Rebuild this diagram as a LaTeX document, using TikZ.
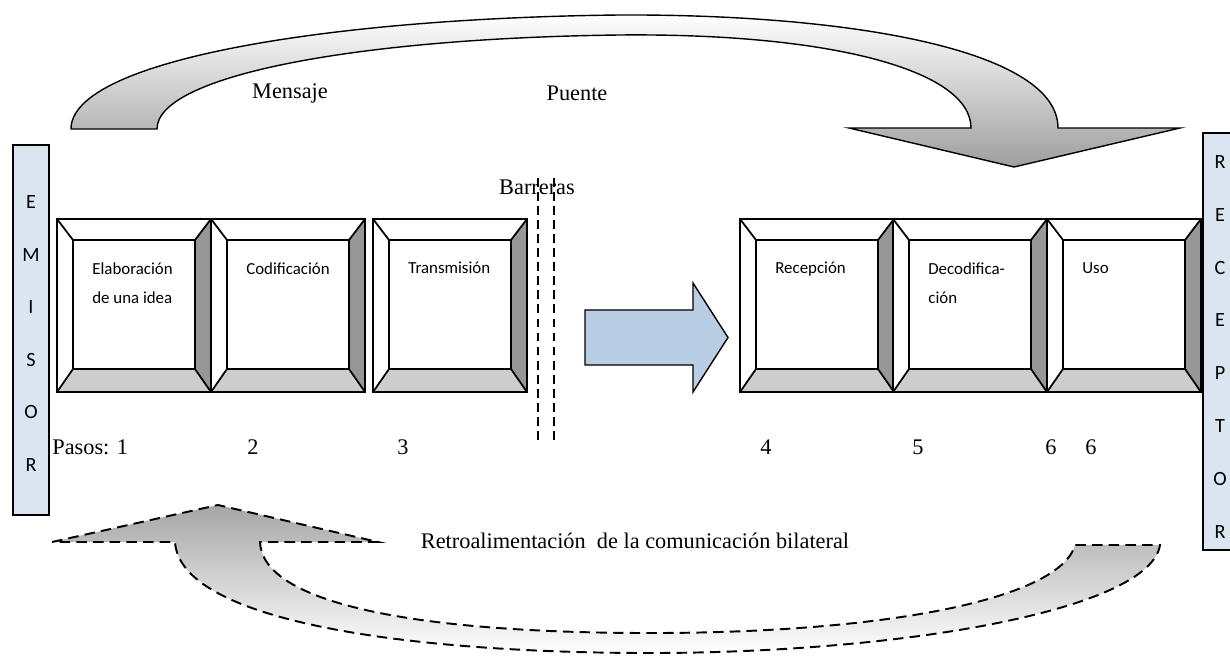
\documentclass[tikz,border=0pt]{standalone}
\usepackage{fontspec}
\setmainfont{Liberation Serif}
\newfontfamily\calibri{Carlito}

\definecolor{barfill}{HTML}{DBE5F1}
\definecolor{arrowblue}{HTML}{B9CDE5}
\definecolor{bevdark}{HTML}{979797}
\definecolor{bevlight}{HTML}{CDCDCD}

% one bevelled key: name, left edge, text
\newcommand{\keybox}[3]{%
  \path[fill=white] (#2,219) -- (#2+154,219) -- (#2+138,240) -- (#2+16,240) -- (#2+16,369) -- (#2,392) -- cycle;
  \path[fill=bevdark] (#2+154,219) -- (#2+154,392) -- (#2+138,369) -- (#2+138,240) -- cycle;
  \path[fill=bevlight] (#2,392) -- (#2+154,392) -- (#2+138,369) -- (#2+16,369) -- cycle;
  \draw[boxline] (#2,219) rectangle (#2+154,392) (#2+16,240) rectangle (#2+138,369)
    (#2,219) -- (#2+16,240) (#2+154,219) -- (#2+138,240)
    (#2,392) -- (#2+16,369) (#2+154,392) -- (#2+138,369);
  \node[keytext] (#1) at (#2+35,262) {#3};
}

\begin{document}
\begin{tikzpicture}[x=0.02cm,y=-0.02cm,every node/.style={inner sep=0pt},
    serif/.style={font=\fontsize{12.7}{15}\selectfont},
    keytext/.style={anchor=north west,align=left,font=\calibri\fontsize{9.6}{17}\selectfont},
    barletter/.style={font=\calibri\fontsize{11.5}{13}\selectfont},
    boxline/.style={line width=1pt},
    bar/.style={draw,line width=0.9pt,fill=barfill},
    bigarrow/.style={draw,line width=0.8pt,top color=white,bottom color=black!38},
    backarrow/.style={draw,line width=1.1pt,dash pattern=on 6pt off 3.5pt,top color=black!35,bottom color=white}]
  \useasboundingbox (0,0) rectangle (1230,658);

  % sender and receiver bars
  \draw[bar] (13,145) rectangle (49,515);
  \foreach \l [count=\i] in {E,M,I,S,O,R}
    \node[barletter] (em\i) at (31,150+52.5*\i) {\l};
  \draw[bar] (1203,133) rectangle (1245,550);
  \foreach \l [count=\i] in {R,E,C,E,P,T,O,R}
    \node[barletter] (rc\i) at (1220,109.2+52.8*\i) {\l};

  % message bridge
  \path[bigarrow] (71,129) .. controls (71,60) and (330,18) .. (620,15)
    .. controls (850,14) and (1058,50) .. (1058,128)
    -- (1180,128) -- (1014,167) -- (849,128) -- (971,128)
    .. controls (971,70) and (830,33) .. (620,35)
    .. controls (360,38) and (157,75) .. (157,129) -- cycle;
  \node[serif] (mensaje) at (290,93) {Mensaje};
  \node[serif] (puente) at (577,93) {Puente};

  % steps
  \keybox{elab}{57}{Elaboración\\de una idea}
  \keybox{codif}{211}{Codificación}
  \keybox{transm}{373}{Transmisión}
  \keybox{recep}{740}{Recepción}
  \keybox{decod}{893}{Decodifica-\\ción}
  \keybox{uso}{1047}{Uso}

  % barriers
  \node[serif] (barreras) at (537,187) {Barreras};
  \draw[line width=0.8pt,dash pattern=on 5pt off 3pt] (538,178) -- (538,443) (554,178) -- (554,443);

  \path[draw,line width=0.8pt,fill=arrowblue] (585,310) -- (693,310) -- (693,283) -- (728,337.5)
    -- (693,392) -- (693,365) -- (585,365) -- cycle;

  \node[serif,anchor=west] (pasos) at (52,447) {Pasos: 1};
  \node[serif] (p2) at (253,447) {2};
  \node[serif] (p3) at (403,447) {3};
  \node[serif] (p4) at (766,447) {4};
  \node[serif] (p5) at (918,447) {5};
  \node[serif] (p6) at (1051,447) {6};
  \node[serif] (p6b) at (1091,447) {6};

  % feedback
  \path[backarrow] (52,542) -- (218,505) -- (378,542) -- (260,542)
    .. controls (262,600) and (400,632) .. (640,633)
    .. controls (880,634) and (1060,600) .. (1075,545)
    -- (1160,545)
    .. controls (1150,610) and (900,654) .. (640,653)
    .. controls (400,652) and (180,620) .. (175,542) -- cycle;
  \node[serif] (retro) at (635,541) {Retroalimentación~ de la comunicación bilateral};
\end{tikzpicture}
\end{document}
